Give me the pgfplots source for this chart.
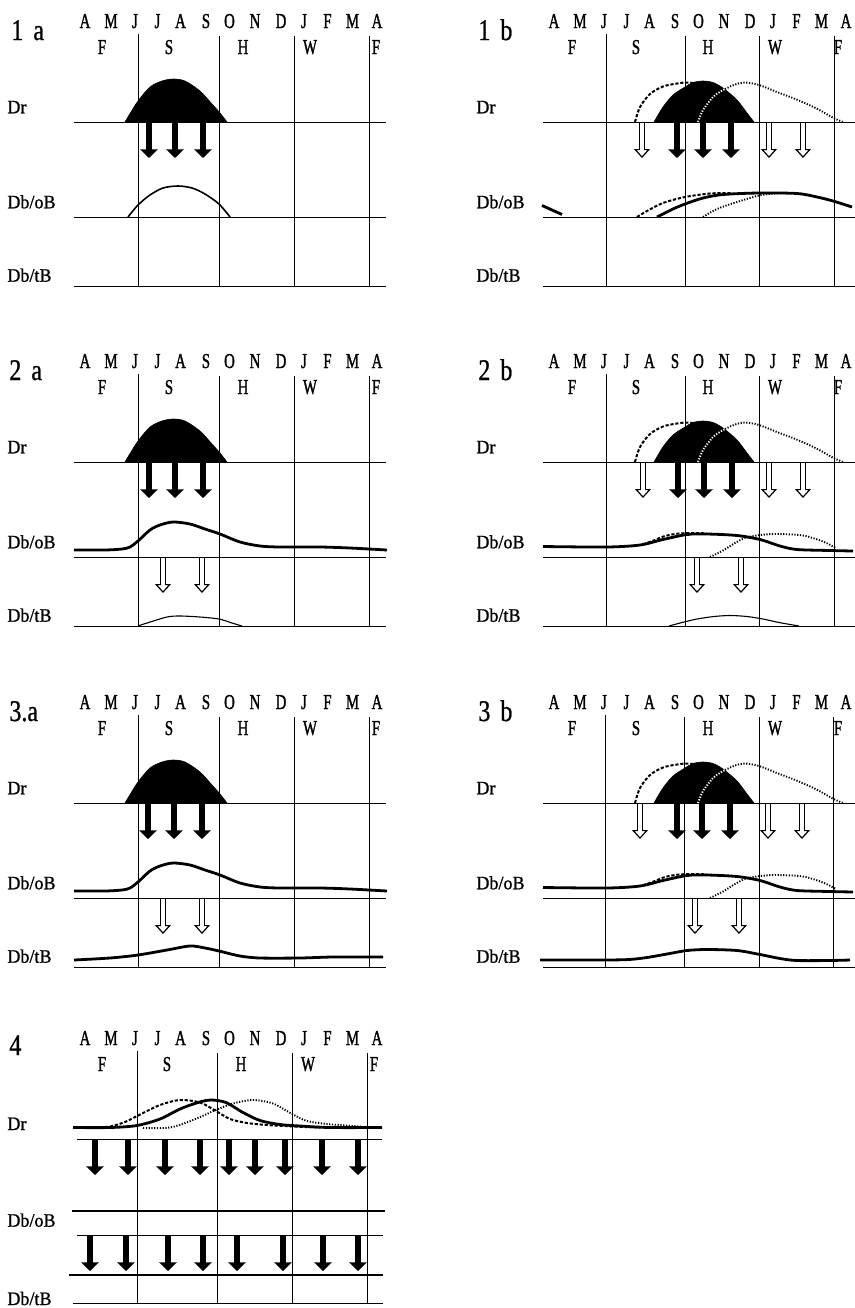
\documentclass[border=0pt]{standalone}
\usepackage{fontspec}
\setmainfont{Liberation Serif}[FakeStretch=0.95,FakeBold=1]
\newfontfamily\mfont{Liberation Serif}[FakeStretch=0.7,FakeBold=1.3]
\newfontfamily\pfontfam{Liberation Serif}[FakeStretch=0.8,FakeBold=0.8]
\usepackage{pgfplots}
\pgfplotsset{compat=1.18}
\usepackage{pgfplotstable}
\usetikzlibrary{arrows.meta}

\newcommand\lfont{\fontsize{9.5}{10}\selectfont}
\newcommand\mtfont{\mfont\fontsize{10.6}{11}\selectfont}
\newcommand\pfont{\pfontfam\fontsize{15}{16}\selectfont}

% x = horizontal position inside a panel (px), h = height above the row's base line (px)
\pgfplotstableread{
x h
125 0
131 10
138 21
150 35
162 41
173 43
185 41
200 31
212 18
220 9
227 0
}\humpA
\pgfplotstableread{
x h
185 0
194 15
204 27
216 35
224 39.5
234 41
244 39.5
254 34
268 22
278 9
285 0
}\humpB
\pgfplotstableread{
x h
166 0
171 15
181 28
194 35.5
208 38.5
218 39.5
228 38
240 31
}\dashB
\pgfplotstableread{
x h
229 0
234 12
244 25
250 29.5
256 33
}\dotWB
\pgfplotstableread{
x h
256 33
266 37.5
276 39.5
290 37
308 30
328 22.3
348 13.3
364 4.3
374 0
}\dotKB
% column a, Db/oB and Db/tB
\pgfplotstableread{
x h
128 0
138 12
150 22
163 29
178 31
192 29
205 23
219 13
230 0
}\oBa
\pgfplotstableread{
x h
74 7
105 7
122 8
130 10
138 16
150 27
160 32
173 35
190 33
205 28
220 23
240 15
260 11
280 10
320 10
350 9
387 7
}\oBthick
\pgfplotstableread{
x h
138 0
147 3
167 9
180 10
200 9
219 7
232 3
242 0
}\tBthin
\pgfplotstableread{
x h
74 7
110 9
138 12
167 17
190 21
205 19
219 16
240 11
260 9
300 9
333 10
383 10
}\tBthick
% panel 1b, Db/oB
\pgfplotstableread{
x h
188 0
204 8
216 13
234 19
254 22.5
290 24
328 23.5
348 20
364 16
383 10
}\oneBsolid
\pgfplotstableread{
x h
168 0
178 6
194 14
216 20
241 23.5
262 24
}\oneBdash
\pgfplotstableread{
x h
234 0
248 8
268 15
290 21.5
305 23.5
322 24
}\oneBdot
\pgfplotstableread{
x h
73 11.5
93 2.5
}\oneBtail
% panels 2b / 3b
\pgfplotstableread{
x h
74 10.5
138 10
171 12
194 17.5
218 22.5
238 23
268 21.5
291 17.5
311 11
328 7.5
361 6.5
384 6
}\twoBsolid
\pgfplotstableread{
x h
174 12.7
186 17
196 21
210 23.5
228 24
238 23.5
}\twoBdash
\pgfplotstableread{
x h
241 0
254 6.5
266 14
276 19
291 22
308 23
334 21.5
354 15.5
367 9
}\twoBdot
\pgfplotstableread{
x h
200 0
215 4
228 7
245 9.5
261 10.5
278 9.5
294 7
310 3.5
330 0
}\twoBtB
\pgfplotstableread{
x h
71 7
134 7
160 7.5
178 9.5
198 13
218 16.5
238 17.5
268 16.5
291 12.5
311 8.5
328 6.5
360 6.5
381 7
}\threeBtB
% panel 4, Dr
\pgfplotstableread{
x h
73 11.5
110 11.5
137 13.5
160 20
180 30
198 36.5
211 39
226 36.5
243 26.5
260 18.5
280 14.5
300 13
330 11.5
382 11.5
}\fourSolid
\pgfplotstableread{
x h
95 11.5
110 12.5
125 17
137 23
160 34
180 39
200 36.5
216 28
230 20
247 16
267 14
293 12.5
320 11.5
}\fourDash
\pgfplotstableread{
x h
143 11
170 11.5
193 19
217 29.5
233 35.5
253 39
273 35.5
293 24.5
307 18
327 15
347 13.5
365 12
380 11.5
}\fourDot

\pgfplotsset{
  panel/.style={x=0.5pt,y=0.5pt,xmin=0,xmax=390,ymin=-20,ymax=270,
    hide axis,clip=false,anchor=south west},
  gl/.style={black,line width=0.45pt},
  thickc/.style={black,line width=1.4pt,smooth},
  thinc/.style={black,line width=0.8pt,smooth},
  hairc/.style={black,line width=0.55pt,smooth},
  dashc/.style={black,line width=1pt,smooth,dash pattern=on 1.6pt off 0.9pt},
  dotc/.style={black,line width=0.95pt,smooth,dash pattern=on 0.6pt off 0.8pt},
  hump/.style={fill=black,draw=black,line width=0.3pt,smooth},
}
\tikzset{
  lt/.style={anchor=base,font=\mtfont,inner sep=0pt},
  rl/.style={anchor=base west,font=\lfont,inner sep=0pt},
  pl/.style={anchor=base west,font=\pfont,inner sep=0pt},
}

\newcommand\hlines{%
  \addplot[gl] coordinates {(74,164) (386,164)};
  \addplot[gl] coordinates {(74,69) (386,69)};
  \addplot[gl] coordinates {(74,0) (386,0)};}
\newcommand\vlines[4]{%
  \addplot[gl] coordinates {(#1,0) (#1,252)};
  \addplot[gl] coordinates {(#2,0) (#2,250)};
  \addplot[gl] coordinates {(#3,0) (#3,250)};
  \addplot[gl] coordinates {(#4,0) (#4,250)};}
\newcommand\monthrow{%
  \node[lt] at (axis cs:85,258) {A};
  \node[lt] at (axis cs:111,258) {M};
  \node[lt] at (axis cs:135,258) {J};
  \node[lt] at (axis cs:157.5,258) {J};
  \node[lt] at (axis cs:180.5,258) {A};
  \node[lt] at (axis cs:206,258) {S};
  \node[lt] at (axis cs:229.5,258) {O};
  \node[lt] at (axis cs:255,258) {N};
  \node[lt] at (axis cs:281,258) {D};
  \node[lt] at (axis cs:304,258) {J};
  \node[lt] at (axis cs:327.5,258) {F};
  \node[lt] at (axis cs:352.5,258) {M};
  \node[lt] at (axis cs:377,258) {A};}
\newcommand\seasonrow[5]{%
  \node[lt] at (axis cs:#1,232) {F};
  \node[lt] at (axis cs:#2,232) {S};
  \node[lt] at (axis cs:#3,232) {H};
  \node[lt] at (axis cs:#4,232) {W};
  \node[lt] at (axis cs:#5,232) {F};}
\newcommand\rowlabels[3]{%
  \node[rl] at (axis cs:7,#1) {Dr};
  \node[rl] at (axis cs:7,#2) {Db/oB};
  \node[rl] at (axis cs:7,#3) {Db/tB};}
\newcommand\blackarrows[1]{%
  \addplot[black,line width=2.8pt,-{Triangle[length=4.3pt,width=8.6pt]},
    quiver={u=0,v=-36}] table[row sep=\\]{#1};}
\newcommand\hollowarrows[1]{%
  \addplot[black,line width=3pt,quiver={u=0,v=-27}] table[row sep=\\]{#1};
  \addplot[black,line width=0.6pt,-{Triangle[length=4.5pt,width=8pt,fill=white]},
    quiver={u=0,v=-9}] table[row sep=\\,y expr=\thisrow{y}-27]{#1};
  \addplot[white,line width=1.8pt,quiver={u=0,v=-27.5}]
    table[row sep=\\,y expr=\thisrow{y}-1]{#1};}
% Dr row of the b panels
\newcommand\drB{%
  \addplot[dashc] table[y expr=\thisrow{h}+164]{\dashB};
  \addplot[dotc] table[y expr=\thisrow{h}+164]{\dotKB};
  \addplot[hump] table[y expr=\thisrow{h}+164]{\humpB} -- cycle;
  \addplot[dotc,white] table[y expr=\thisrow{h}+164]{\dotWB};}

\begin{document}
\begin{tikzpicture}

% ---------- 1 a ----------
\begin{axis}[panel,at={(0pt,-153pt)}]
  \hlines \vlines{138}{219}{294}{369}
  \monthrow \seasonrow{102}{169}{243}{310}{376} \rowlabels{172.7}{77.7}{4.3}
  \node[pl] at (axis cs:11,246) {1\hspace{5pt}a};
  \addplot[hump] table[y expr=\thisrow{h}+164]{\humpA} -- cycle;
  \blackarrows{x y\\149 164\\175 164\\203 164\\}
  \addplot[thinc] table[y expr=\thisrow{h}+69]{\oBa};
\end{axis}

% ---------- 1 b ----------
\begin{axis}[panel,at={(234.5pt,-153pt)}]
  \hlines \vlines{137}{216}{290.5}{365}
  \monthrow \seasonrow{103}{167}{239}{306}{369} \rowlabels{172.7}{77.7}{4.3}
  \node[pl] at (axis cs:9,246) {1\hspace{5pt}b};
  \drB
  \blackarrows{x y\\208 164\\234 164\\262 164\\}
  \hollowarrows{x y\\173 164\\300 164\\334 164\\}
  \addplot[dashc] table[y expr=\thisrow{h}+69]{\oneBdash};
  \addplot[dotc] table[y expr=\thisrow{h}+69]{\oneBdot};
  \addplot[thickc] table[y expr=\thisrow{h}+69]{\oneBsolid};
  \addplot[black,line width=1.4pt] table[y expr=\thisrow{h}+69]{\oneBtail};
\end{axis}

% ---------- 2 a ----------
\begin{axis}[panel,at={(0pt,-323pt)}]
  \hlines \vlines{138}{219}{294}{369}
  \monthrow \seasonrow{102}{169}{243}{310}{376} \rowlabels{172.7}{77.7}{4.3}
  \node[pl] at (axis cs:9,246) {2\hspace{5pt}a};
  \addplot[hump] table[y expr=\thisrow{h}+164]{\humpA} -- cycle;
  \blackarrows{x y\\149 164\\175 164\\203 164\\}
  \addplot[thickc] table[y expr=\thisrow{h}+69]{\oBthick};
  \hollowarrows{x y\\163 69\\202 69\\}
  \addplot[hairc] table[y expr=\thisrow{h}]{\tBthin};
\end{axis}

% ---------- 2 b ----------
\begin{axis}[panel,at={(234.5pt,-323pt)}]
  \hlines \vlines{137}{216}{290.5}{365}
  \monthrow \seasonrow{103}{167}{239}{306}{369} \rowlabels{172.7}{77.7}{4.3}
  \node[pl] at (axis cs:9,246) {2\hspace{5pt}b};
  \drB
  \blackarrows{x y\\209 164\\235 164\\263 164\\}
  \hollowarrows{x y\\174 164\\300 164\\334 164\\}
  \addplot[dashc] table[y expr=\thisrow{h}+69]{\twoBdash};
  \addplot[dotc] table[y expr=\thisrow{h}+69]{\twoBdot};
  \addplot[thickc] table[y expr=\thisrow{h}+69]{\twoBsolid};
  \hollowarrows{x y\\228 69\\272 69\\}
  \addplot[hairc] table[y expr=\thisrow{h}]{\twoBtB};
\end{axis}

% ---------- 3 a ----------
\begin{axis}[panel,at={(0pt,-493.5pt)}]
  \hlines \vlines{138}{219}{294}{369}
  \monthrow \seasonrow{102}{169}{243}{310}{376} \rowlabels{172.7}{77.7}{4.3}
  \node[pl] at (axis cs:9,246) {3.a};
  \addplot[hump] table[y expr=\thisrow{h}+164]{\humpA} -- cycle;
  \blackarrows{x y\\148 164\\174 164\\202 164\\}
  \addplot[thickc] table[y expr=\thisrow{h}+69]{\oBthick};
  \hollowarrows{x y\\163 69\\202 69\\}
  \addplot[thickc] table[y expr=\thisrow{h}]{\tBthick};
\end{axis}

% ---------- 3 b ----------
\begin{axis}[panel,at={(234.5pt,-493.5pt)}]
  \hlines \vlines{136}{215.5}{290}{364.5}
  \monthrow \seasonrow{103}{167}{239}{306}{369} \rowlabels{172.7}{77.7}{4.3}
  \node[pl] at (axis cs:9,246) {3\hspace{5pt}b};
  \drB
  \blackarrows{x y\\208 164\\233 164\\261 164\\}
  \hollowarrows{x y\\171 164\\299 164\\333 164\\}
  \addplot[dashc] table[y expr=\thisrow{h}+69]{\twoBdash};
  \addplot[dotc] table[y expr=\thisrow{h}+69]{\twoBdot};
  \addplot[thickc] table[y expr=\thisrow{h}+69]{\twoBsolid};
  \hollowarrows{x y\\226 69\\270 69\\}
  \addplot[thickc] table[y expr=\thisrow{h}]{\threeBtB};
\end{axis}

% ---------- 4 ----------
\begin{axis}[panel,at={(0pt,-661.5pt)}]
  \addplot[gl] coordinates {(77,164) (382,164)};
  \addplot[black,line width=1.4pt] coordinates {(72,92) (385,92)};
  \addplot[gl] coordinates {(77,68) (383,68)};
  \addplot[black,line width=1.4pt] coordinates {(69,28) (383,28)};
  \addplot[gl] coordinates {(73,0) (383,0)};
  \vlines{137}{217}{292}{367}
  \monthrow \seasonrow{102}{167}{241}{308}{374} \rowlabels{173}{76.3}{-2}
  \node[pl] at (axis cs:9,248) {4};
  \addplot[dashc] table[y expr=\thisrow{h}+164]{\fourDash};
  \addplot[dotc] table[y expr=\thisrow{h}+164]{\fourDot};
  \addplot[thickc] table[y expr=\thisrow{h}+164]{\fourSolid};
  \blackarrows{x y\\95 164\\128 164\\165 164\\200 164\\229 164\\255 164\\285 164\\322 164\\358 164\\}
  \blackarrows{x y\\90 68\\126 68\\168 68\\203 68\\237 68\\283 68\\323 68\\358 68\\}
\end{axis}

\pgfresetboundingbox
\path[use as bounding box] (0pt,0pt) rectangle (427.5pt,-654pt);
\end{tikzpicture}
\end{document}
